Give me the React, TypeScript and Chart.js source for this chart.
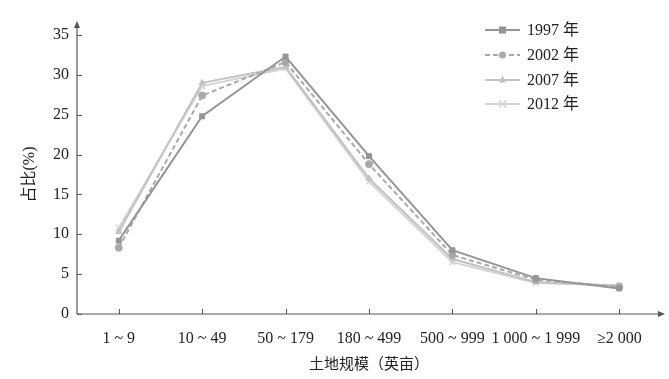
import React, { useEffect, useRef } from "react";
import { Chart, registerables } from "chart.js";

Chart.register(...registerables);

const categories = ["1 ~ 9", "10 ~ 49", "50 ~ 179", "180 ~ 499", "500 ~ 999", "1 000 ~ 1 999", "≥2 000"];
const s1997 = [9.2, 24.8, 32.3, 19.8, 8.0, 4.5, 3.2];
const s2002 = [8.3, 27.4, 31.6, 18.8, 7.4, 4.3, 3.4];
const s2007 = [10.3, 29.0, 31.0, 17.0, 6.9, 4.0, 3.5];
const s2012 = [10.8, 28.6, 30.8, 16.6, 6.5, 3.9, 3.6];
const seriesNames = ["1997 年", "2002 年", "2007 年", "2012 年"];
const yTicks = [0, 5, 10, 15, 20, 25, 30, 35];

const FONT = "'Liberation Serif', 'Noto Sans CJK SC', serif";
const AXIS = "#555";

const axesPlugin = {
  id: "customAxes",
  afterDraw(chart: any) {
    const { ctx, chartArea } = chart;
    const xs = chart.scales.x;
    const ys = chart.scales.y;
    const left = chartArea.left;
    const bottom = chartArea.bottom;
    ctx.save();
    ctx.strokeStyle = AXIS;
    ctx.fillStyle = AXIS;
    ctx.lineWidth = 1.2;
    // y axis
    const yTop = ys.getPixelForValue(35) - 10;
    ctx.beginPath();
    ctx.moveTo(left, bottom);
    ctx.lineTo(left, yTop);
    ctx.stroke();
    ctx.beginPath();
    ctx.moveTo(left, yTop - 4);
    ctx.lineTo(left - 3, yTop + 3);
    ctx.lineTo(left + 3, yTop + 3);
    ctx.closePath();
    ctx.fill();
    // x axis
    const xEnd = chartArea.right;
    ctx.beginPath();
    ctx.moveTo(left, bottom);
    ctx.lineTo(xEnd, bottom);
    ctx.stroke();
    ctx.beginPath();
    ctx.moveTo(xEnd + 4, bottom);
    ctx.lineTo(xEnd - 3, bottom - 3);
    ctx.lineTo(xEnd - 3, bottom + 3);
    ctx.closePath();
    ctx.fill();
    // ticks (inside)
    ctx.lineWidth = 1;
    yTicks.forEach((v) => {
      const p = Math.round(ys.getPixelForValue(v)) + 0.5;
      ctx.beginPath();
      ctx.moveTo(left, p);
      ctx.lineTo(left + 5, p);
      ctx.stroke();
    });
    categories.forEach((_, i) => {
      const p = Math.round(xs.getPixelForValue(i)) + 0.5;
      ctx.beginPath();
      ctx.moveTo(p, bottom);
      ctx.lineTo(p, bottom - 5);
      ctx.stroke();
    });
    // legend
    const lx0 = 485;
    const lx1 = 520;
    const ly = [30, 55, 80, 104];
    chart.data.datasets.forEach((ds: any, i: number) => {
      const y = ly[i];
      ctx.strokeStyle = ds.borderColor;
      ctx.lineWidth = 2;
      ctx.setLineDash(ds.borderDash || []);
      ctx.beginPath();
      ctx.moveTo(lx0, y);
      ctx.lineTo(lx1, y);
      ctx.stroke();
      ctx.setLineDash([]);
      const style = ds.pointStyle;
      const r = 3.5;
      const cx = (lx0 + lx1) / 2;
      ctx.fillStyle = ds.pointBackgroundColor;
      ctx.strokeStyle = ds.pointBorderColor;
      ctx.lineWidth = 1.5;
      if (style === "rect") {
        ctx.fillRect(cx - r, y - r, 2 * r, 2 * r);
      } else if (style === "circle") {
        ctx.beginPath();
        ctx.arc(cx, y, r, 0, Math.PI * 2);
        ctx.fill();
      } else if (style === "triangle") {
        ctx.beginPath();
        ctx.moveTo(cx, y - r - 1);
        ctx.lineTo(cx - r, y + r - 1);
        ctx.lineTo(cx + r, y + r - 1);
        ctx.closePath();
        ctx.fill();
      } else {
        ctx.beginPath();
        ctx.moveTo(cx - r, y - r);
        ctx.lineTo(cx + r, y + r);
        ctx.moveTo(cx + r, y - r);
        ctx.lineTo(cx - r, y + r);
        ctx.stroke();
      }
      ctx.fillStyle = "#222";
      ctx.font = `16px ${FONT}`;
      ctx.textAlign = "left";
      ctx.textBaseline = "middle";
      ctx.fillText(seriesNames[i], 527, y + 1);
    });
    ctx.restore();
  },
};

export default function App() {
  const ref = useRef<HTMLCanvasElement>(null);
  useEffect(() => {
    document.body.style.margin = "0";
    const mk = (data: number[], color: string, style: string, dash?: number[]) => ({
      label: "",
      data,
      borderColor: color,
      backgroundColor: color,
      pointBackgroundColor: color,
      pointBorderColor: color,
      pointStyle: style,
      pointRadius: style === "crossRot" ? 4 : 3.5,
      pointBorderWidth: style === "crossRot" ? 1.5 : 1,
      borderWidth: 2,
      borderDash: dash,
      tension: 0,
      fill: false,
    });
    const chart = new Chart(ref.current!, {
      type: "line",
      data: {
        labels: categories,
        datasets: [
          mk(s2012, "#d3d3d3", "crossRot"),
          mk(s2007, "#c2c2c2", "triangle"),
          mk(s2002, "#a9a9a9", "circle", [5, 3]),
          mk(s1997, "#959595", "rect"),
        ].reverse() as any,
      },
      options: {
        animation: false,
        responsive: false,
        layout: { padding: { top: 35, right: 8, left: 0, bottom: 0 } },
        plugins: { legend: { display: false }, tooltip: { enabled: false } },
        scales: {
          x: {
            offset: true,
            grid: { display: false, drawTicks: false },
            border: { display: false },
            ticks: {
              autoSkip: false,
              maxRotation: 0,
              padding: 15,
              color: "#222",
              font: { family: FONT, size: 16 },
            },
            title: {
              display: true,
              text: "土地规模（英亩）",
              color: "#222",
              font: { family: FONT, size: 15 },
              padding: { top: 0, bottom: 5 },
            },
            afterFit: (s: any) => {
              s.height = 65;
            },
          },
          y: {
            min: 0,
            max: 35,
            grid: { display: false, drawTicks: false },
            border: { display: false },
            ticks: {
              stepSize: 5,
              padding: 8,
              color: "#222",
              font: { family: FONT, size: 16 },
            },
            title: {
              display: true,
              text: "占比(%)",
              color: "#222",
              font: { family: FONT, size: 16 },
              padding: { top: 20, bottom: 0 },
            },
            afterFit: (s: any) => {
              s.width = 77;
            },
          },
        },
      },
      plugins: [axesPlugin],
    });
    return () => chart.destroy();
  }, []);
  return <canvas ref={ref} width={669} height={379} style={{ display: "block" }} />;
}
